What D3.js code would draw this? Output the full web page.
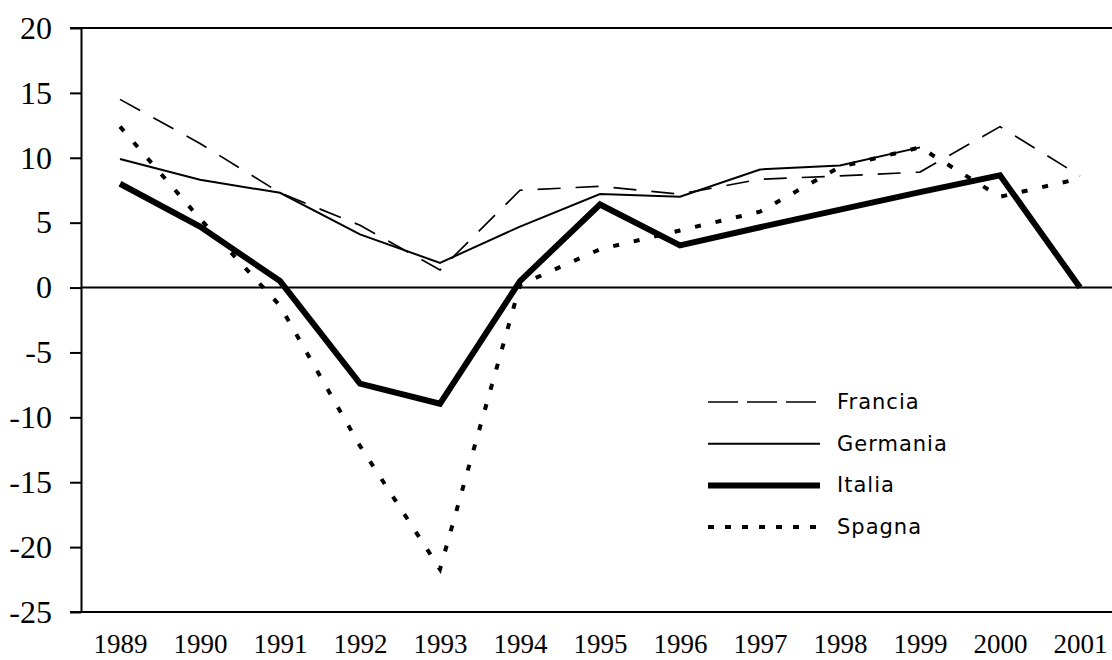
<!DOCTYPE html>
<html>
<head>
<meta charset="utf-8">
<script src="https://cdn.jsdelivr.net/npm/d3@7"></script>
<style>
  body { margin: 0; background: #fff; }
  svg { display: block; }
</style>
</head>
<body>
<svg width="1112" height="660"></svg>
<script>
// data
const years = [1989, 1990, 1991, 1992, 1993, 1994, 1995, 1996, 1997, 1998, 1999, 2000, 2001];
const francia  = [14.5, 11.1, 7.3, 4.8, 1.35, 7.5, 7.8, 7.2, 8.35, 8.6, 8.9, 12.4, 8.6];
const germania = [9.9, 8.3, 7.3, 4.1, 1.9, 4.7, 7.2, 7.0, 9.1, 9.4, 10.8, null, null];
const italia   = [8.0, 4.7, 0.5, -7.4, -8.95, 0.5, 6.4, 3.25, 4.65, 6.0, 7.35, 8.65, 0.0];
const spagna   = [12.4, 5.3, -1.4, -12.2, -21.7, 0.2, 2.95, 4.4, 5.85, 9.3, 10.8, 7.0, 8.4];
const yTicks = [20, 15, 10, 5, 0, -5, -10, -15, -20, -25];

const series = [
  { name: 'Francia',  values: francia,  width: 1.7, dash: '23,15', legendDash: '30,9' },
  { name: 'Germania', values: germania, width: 2,   dash: null,    legendDash: null },
  { name: 'Italia',   values: italia,   width: 6,   dash: null,    legendDash: null },
  { name: 'Spagna',   values: spagna,   width: 4,   dash: '6,15',  legendDash: '6,11' }
];

const serif = "'Liberation Serif', 'Times New Roman', serif";

const svg = d3.select('svg');
const width = +svg.attr('width');

const x = d3.scalePoint()
  .domain(years)
  .range([120, 1080]);

const y = d3.scaleLinear()
  .domain([-25, 20])
  .range([612, 28]);

// y axis (plain hyphen for negatives, like the original)
svg.append('g')
  .attr('transform', 'translate(81,0)')
  .call(d3.axisLeft(y).tickValues(yTicks).tickFormat(d => String(d))
    .tickSize(11).tickSizeOuter(0).tickPadding(18))
  .call(g => g.select('.domain').attr('stroke-width', 2))
  .call(g => g.selectAll('.tick line').attr('stroke-width', 2))
  .call(g => g.selectAll('.tick text')
    .style('font-family', serif)
    .style('font-size', '32px')
    .attr('fill', '#000'));

// frame lines at top, bottom and zero
svg.append('line')
  .attr('x1', 70).attr('x2', width)
  .attr('y1', y(20)).attr('y2', y(20))
  .attr('stroke', '#000').attr('stroke-width', 2);
svg.append('line')
  .attr('x1', 70).attr('x2', width)
  .attr('y1', y(-25)).attr('y2', y(-25))
  .attr('stroke', '#000').attr('stroke-width', 2);
svg.append('line')
  .attr('x1', 81).attr('x2', width)
  .attr('y1', y(0)).attr('y2', y(0))
  .attr('stroke', '#000').attr('stroke-width', 2);

// year labels
svg.append('g')
  .attr('transform', 'translate(0,612)')
  .call(d3.axisBottom(x).tickSize(0).tickPadding(0))
  .call(g => g.select('.domain').remove())
  .call(g => g.selectAll('.tick text')
    .attr('y', 41)
    .attr('dy', 0)
    .style('font-family', serif)
    .style('font-size', '27px')
    .attr('fill', '#000'));

// lines
const line = d3.line()
  .defined(d => d.v !== null)
  .x(d => x(d.year))
  .y(d => y(d.v));

svg.append('g').selectAll('path')
  .data(series)
  .enter().append('path')
    .attr('d', s => line(years.map((yr, i) => ({ year: yr, v: s.values[i] }))))
    .attr('fill', 'none')
    .attr('stroke', '#000')
    .attr('stroke-width', s => s.width)
    .attr('stroke-dasharray', s => s.dash);

// legend
const legend = svg.append('g')
  .attr('transform', 'translate(708,402)');

const item = legend.selectAll('g')
  .data(series)
  .enter().append('g')
    .attr('transform', (s, i) => `translate(0,${i * 41.7})`);

item.append('line')
  .attr('x1', 0).attr('x2', 112)
  .attr('y1', 0).attr('y2', 0)
  .attr('stroke', '#000')
  .attr('stroke-width', s => s.width)
  .attr('stroke-dasharray', s => s.legendDash);

item.append('text')
  .attr('x', 129)
  .attr('y', 7)
  .style('font-family', "'DejaVu Sans', sans-serif")
  .style('font-size', '21px')
  .style('letter-spacing', '1px')
  .attr('fill', '#000')
  .text(s => s.name);
</script>
</body>
</html>
